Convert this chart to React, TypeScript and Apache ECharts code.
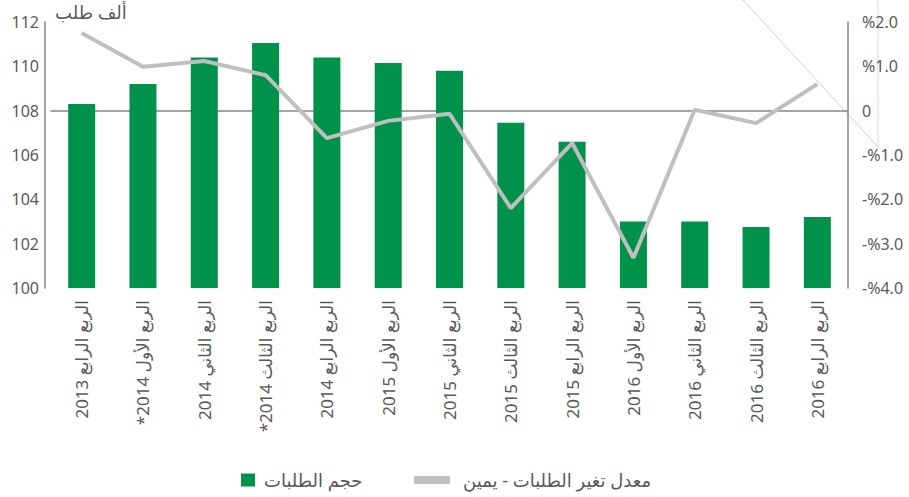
import React, { useEffect, useRef } from "react";
import * as echarts from "echarts";

const RLM = "\u200F";
const categories = [
  "الربع الرابع 2013",
  "الربع الأول 2014*" + RLM,
  "الربع الثاني 2014",
  "الربع الثالث 2014*" + RLM,
  "الربع الرابع 2014",
  "الربع الأول 2015",
  "الربع الثاني 2015",
  "الربع الثالث 2015",
  "الربع الرابع 2015",
  "الربع الأول 2016",
  "الربع الثاني 2016",
  "الربع الثالث 2016",
  "الربع الرابع 2016",
];
const volume = [108.3, 109.2, 110.4, 111.05, 110.4, 110.15, 109.8, 107.45, 106.6, 103.0, 103.0, 102.75, 103.2];
const changeRate = [1.75, 0.99, 1.12, 0.8, -0.62, -0.23, -0.07, -2.2, -0.73, -3.32, 0.02, -0.28, 0.6];
const barName = "حجم الطلبات";
const lineName = "معدل تغير الطلبات - يمين";
const unitLabel = "ألف طلب";

const FONT = "'Noto Sans', 'DejaVu Sans', sans-serif";
const TEXT = "#595959";

export default function App() {
  const ref = useRef<HTMLDivElement>(null);
  useEffect(() => {
    document.body.style.margin = "0";
    const chart = echarts.init(ref.current!, null, { renderer: "svg" });
    chart.setOption({
      animation: false,
      textStyle: { fontFamily: FONT },
      grid: { left: 51, right: 61, top: 22, bottom: 209 },
      legend: [
        {
          data: [barName],
          left: 236,
          top: 466,
          padding: 5,
          itemWidth: 14,
          itemHeight: 13,
          icon: "rect",
          textStyle: { color: TEXT, fontSize: 18, fontFamily: FONT, padding: [0, 0, 0, 4] },
        },
        {
          data: [lineName],
          left: 409,
          top: 466,
          padding: 5,
          itemWidth: 36,
          itemHeight: 8,
          icon: "rect",
          textStyle: { color: TEXT, fontSize: 18, fontFamily: FONT, padding: [0, 0, 0, 8] },
        },
      ],
      xAxis: {
        type: "category",
        data: categories,
        axisTick: { show: false },
        axisLine: { lineStyle: { color: "#868686", width: 1.5 } },
        axisLabel: {
          rotate: 90,
          interval: 0,
          margin: 12,
          color: TEXT,
          fontSize: 17,
          fontFamily: FONT,
        },
      },
      yAxis: [
        {
          type: "value",
          min: 100,
          max: 112,
          interval: 2,
          offset: 6,
          splitLine: { show: false },
          axisLine: { show: true, lineStyle: { color: "#868686", width: 1.5 } },
          axisTick: { show: false },
          axisLabel: { color: TEXT, fontSize: 16, fontFamily: FONT, margin: 6 },
        },
        {
          type: "value",
          min: -4,
          max: 2,
          interval: 1,
          position: "right",
          splitLine: { show: false },
          axisLine: { show: true, lineStyle: { color: "#868686", width: 1.5 } },
          axisTick: { show: false },
          axisLabel: {
            color: TEXT,
            fontSize: 16,
            fontFamily: FONT,
            margin: 14,
            formatter: (v: number) =>
              v === 0 ? "0" : (v < 0 ? "-%" : "%") + Math.abs(v).toFixed(1),
          },
        },
      ],
      series: [
        {
          name: barName,
          type: "bar",
          data: volume,
          barWidth: 27,
          itemStyle: { color: "#00924a" },
          yAxisIndex: 0,
        },
        {
          name: lineName,
          type: "line",
          data: changeRate,
          yAxisIndex: 1,
          symbol: "none",
          lineStyle: { color: "#bfbfbf", width: 4 },
          itemStyle: { color: "#bfbfbf" },
        },
      ],
      graphic: [
        {
          type: "text",
          left: 55,
          top: 3,
          style: { text: unitLabel, fill: TEXT, fontSize: 18, fontFamily: FONT },
        },
        {
          type: "line",
          shape: { x1: 743, y1: 0, x2: 878, y2: 147 },
          style: { stroke: "#cfcfcf", lineWidth: 1 },
        },
        {
          type: "line",
          shape: { x1: 878, y1: 0, x2: 878, y2: 147 },
          style: { stroke: "#d9d9d9", lineWidth: 1 },
        },
      ],
    });
    return () => chart.dispose();
  }, []);
  return <div ref={ref} style={{ width: 909, height: 497 }} />;
}
